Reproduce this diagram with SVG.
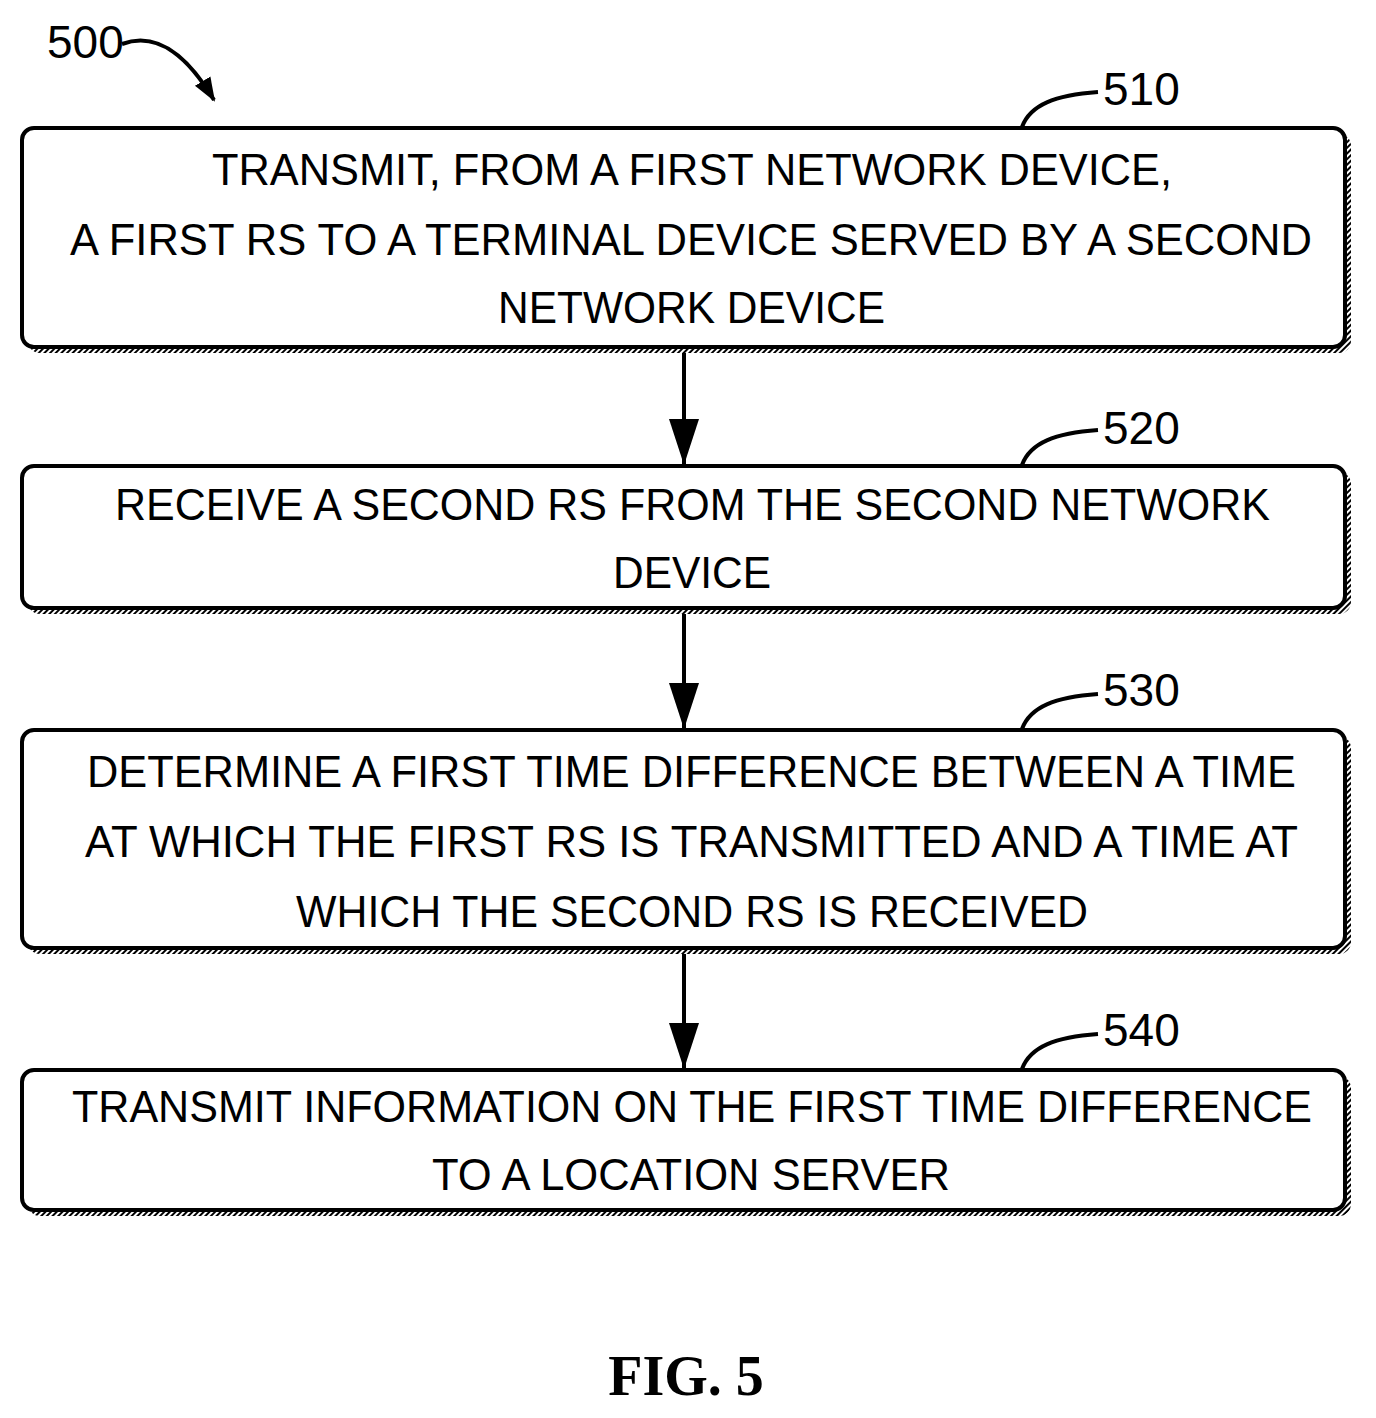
<svg xmlns="http://www.w3.org/2000/svg" width="1376" height="1418" viewBox="0 0 1376 1418">
<style>
.box{fill:#fff;stroke:#000;stroke-width:4}
.sh{fill:url(#hatch)}
.t{font-family:"Liberation Sans",Arial,sans-serif;font-size:44px;fill:#000}
.lbl{font-family:"Liberation Sans",Arial,sans-serif;font-size:46px;fill:#000}
.ln{fill:none;stroke:#000;stroke-width:4}
</style>
<defs>
<pattern id="hatch" width="4" height="4" patternUnits="userSpaceOnUse" patternTransform="rotate(45)">
<rect width="4" height="4" fill="#fff"/><rect width="2" height="4" fill="#000"/>
</pattern>
<marker id="ah" markerWidth="24" markerHeight="24" refX="22" refY="12" orient="auto" markerUnits="userSpaceOnUse" viewBox="0 0 24 24">
<path d="M0,3 L24,12 L0,21 z" fill="#000"/>
</marker>
<marker id="ah2" markerWidth="46" markerHeight="32" refX="45" refY="16" orient="auto" markerUnits="userSpaceOnUse" viewBox="0 0 46 32">
<path d="M0,1 L46,16 L0,31 z" fill="#000"/>
</marker>
</defs>
<g id="n500">
<text class="lbl" x="47" y="58">500</text>
</g>
<g id="n510">
<rect class="sh" x="28" y="134" width="1323" height="219" rx="12"/>
<rect class="box" x="22" y="128" width="1323" height="219" rx="12"/>
<text class="t" x="212" y="185" textLength="960" lengthAdjust="spacingAndGlyphs">TRANSMIT, FROM A FIRST NETWORK DEVICE,</text>
<text class="t" x="70" y="255" textLength="1242" lengthAdjust="spacingAndGlyphs">A FIRST RS TO A TERMINAL DEVICE SERVED BY A SECOND</text>
<text class="t" x="498" y="323" textLength="387" lengthAdjust="spacingAndGlyphs">NETWORK DEVICE</text>
<text class="lbl" x="1103" y="105">510</text>
</g>
<g id="n520">
<rect class="sh" x="28" y="472" width="1323" height="142" rx="12"/>
<rect class="box" x="22" y="466" width="1323" height="142" rx="12"/>
<text class="t" x="115" y="520" textLength="1155" lengthAdjust="spacingAndGlyphs">RECEIVE A SECOND RS FROM THE SECOND NETWORK</text>
<text class="t" x="613" y="588" textLength="158" lengthAdjust="spacingAndGlyphs">DEVICE</text>
<text class="lbl" x="1103" y="444">520</text>
</g>
<g id="n530">
<rect class="sh" x="28" y="736" width="1323" height="218" rx="12"/>
<rect class="box" x="22" y="730" width="1323" height="218" rx="12"/>
<text class="t" x="87" y="787" textLength="1209" lengthAdjust="spacingAndGlyphs">DETERMINE A FIRST TIME DIFFERENCE BETWEEN A TIME</text>
<text class="t" x="85" y="857" textLength="1213" lengthAdjust="spacingAndGlyphs">AT WHICH THE FIRST RS IS TRANSMITTED AND A TIME AT</text>
<text class="t" x="296" y="927" textLength="792" lengthAdjust="spacingAndGlyphs">WHICH THE SECOND RS IS RECEIVED</text>
<text class="lbl" x="1103" y="706">530</text>
</g>
<g id="n540">
<rect class="sh" x="28" y="1076" width="1323" height="140" rx="12"/>
<rect class="box" x="22" y="1070" width="1323" height="140" rx="12"/>
<text class="t" x="72" y="1122" textLength="1240" lengthAdjust="spacingAndGlyphs">TRANSMIT INFORMATION ON THE FIRST TIME DIFFERENCE</text>
<text class="t" x="432" y="1190" textLength="518" lengthAdjust="spacingAndGlyphs">TO A LOCATION SERVER</text>
<text class="lbl" x="1103" y="1046">540</text>
</g>
<g id="connectors">
<path class="ln" d="M122,44 C160,30 190,60 214,100" marker-end="url(#ah)"/>
<path class="ln" d="M1022,127 C1030,105 1055,95 1098,92"/>
<path class="ln" d="M1022,465 C1030,443 1055,433 1098,430"/>
<path class="ln" d="M1022,729 C1030,707 1055,697 1098,694"/>
<path class="ln" d="M1022,1069 C1030,1047 1055,1037 1098,1034"/>
<line class="ln" x1="684" y1="353" x2="684" y2="464" marker-end="url(#ah2)"/>
<line class="ln" x1="684" y1="614" x2="684" y2="728" marker-end="url(#ah2)"/>
<line class="ln" x1="684" y1="954" x2="684" y2="1068" marker-end="url(#ah2)"/>
</g>
<text x="686" y="1395" text-anchor="middle" font-family="Liberation Serif,serif" font-weight="bold" font-size="56">FIG. 5</text>
</svg>
